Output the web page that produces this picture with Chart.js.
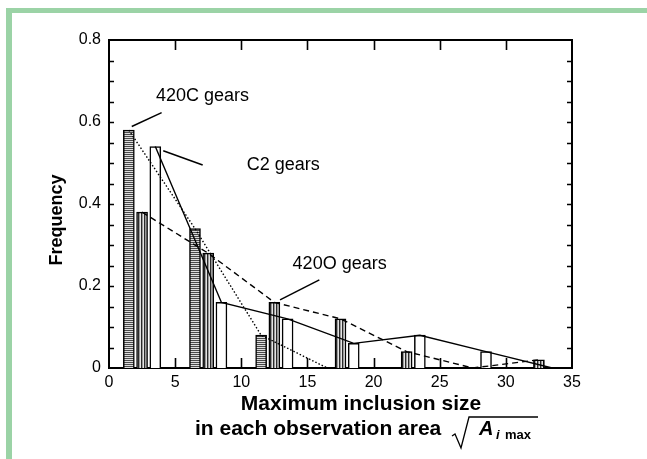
<!DOCTYPE html>
<html>
<head>
<meta charset="utf-8">
<script src="https://cdn.jsdelivr.net/npm/chart.js@4/dist/chart.umd.min.js"></script>
<style>
  html, body { margin: 0; padding: 0; background: #ffffff; }
  canvas { display: block; }
</style>
</head>
<body>
<canvas id="chart" width="647" height="459"></canvas>
<script>
// Histogram bins (start of each 5-unit class of inclusion size)
const binStarts = [0, 5, 10, 15, 20, 25, 30];

// Frequency per bin for each gear material
const freq420C = [0.58, 0.34, 0.08, 0.00, 0.00, 0.00, 0.00];
const freq420O = [0.38, 0.28, 0.16, 0.12, 0.04, 0.00, 0.02];
const freqC2   = [0.54, 0.16, 0.12, 0.06, 0.08, 0.04, 0.00];

// Where each series' bar sits inside a bin
const barOffset = { c420: 1.5, o420: 2.5, c2: 3.5 };

// Number of bins each trend line runs through
const lineBins = { c420: 4, o420: 7, c2: 7 };

// Axis ticks
const xTickValues = [0, 5, 10, 15, 20, 25, 30, 35];
const yTickLabels = [0, 0.2, 0.4, 0.6, 0.8];

// Series call-outs: text anchor and leader line, in data units
const calloutNames = ['420C gears', 'C2 gears', '420O gears'];
const calloutText  = [[3.55, 0.651], [10.41, 0.483], [13.88, 0.241]];
const calloutLineFrom = [[1.72, 0.589], [4.10, 0.530], [12.93, 0.166]];
const calloutLineTo   = [[3.98, 0.623], [7.08, 0.495], [15.90, 0.215]];

function barPoints(values, offset) {
  const pts = [];
  values.forEach((v, i) => { if (v > 0) pts.push({ x: binStarts[i] + offset, y: v }); });
  return pts;
}
function linePoints(values, offset, n) {
  return values.slice(0, n).map((v, i) => ({ x: binStarts[i] + offset, y: v }));
}

function stripePattern(colors, horizontal) {
  const c = document.createElement('canvas');
  c.width = horizontal ? 4 : colors.length;
  c.height = horizontal ? colors.length : 4;
  const g = c.getContext('2d');
  colors.forEach((col, i) => {
    g.fillStyle = col;
    if (horizontal) g.fillRect(0, i, c.width, 1);
    else g.fillRect(i, 0, 1, c.height);
  });
  return document.getElementById('chart').getContext('2d').createPattern(c, 'repeat');
}

const hatch420C = stripePattern(['#4a4a4a', '#dcdcdc'], true);
const hatch420O = stripePattern(['#2a2a2a', '#9a9a9a', '#e4e4e4'], false);

const FONT = "'Liberation Sans', Arial, Helvetica, sans-serif";

const framePlugin = {
  id: 'frameAndLabels',
  beforeDraw(chart) {
    const ctx = chart.ctx;
    ctx.save();
    ctx.fillStyle = '#ffffff';
    ctx.fillRect(0, 0, chart.width, chart.height);
    // light green frame on top and left
    ctx.fillStyle = '#9bd3a6';
    ctx.fillRect(6, 8, chart.width - 6, 5);
    ctx.fillRect(6, 8, 6, chart.height - 8);
    ctx.restore();
  },
  afterDraw(chart) {
    const ctx = chart.ctx;
    const a = chart.chartArea;
    const xs = chart.scales.x, ys = chart.scales.y;
    ctx.save();
    ctx.strokeStyle = '#000';
    ctx.lineCap = 'butt';
    // top and right axis lines
    ctx.lineWidth = 2;
    ctx.beginPath();
    ctx.moveTo(a.left - 1, a.top); ctx.lineTo(a.right + 1, a.top);
    ctx.moveTo(a.right, a.top); ctx.lineTo(a.right, a.bottom + 1);
    ctx.stroke();
    // inward ticks
    ctx.lineWidth = 1.6;
    ctx.beginPath();
    xTickValues.forEach(v => {
      if (v <= xs.min || v >= xs.max) return;
      const px = Math.round(xs.getPixelForValue(v)) + 0.5;
      ctx.moveTo(px, a.bottom); ctx.lineTo(px, a.bottom - 10);
      ctx.moveTo(px, a.top); ctx.lineTo(px, a.top + 10);
    });
    for (let k = 1; k < 16; k++) {
      const py = Math.round(ys.getPixelForValue(k * 0.05)) + 0.5;
      ctx.moveTo(a.left, py); ctx.lineTo(a.left + 5, py);
      ctx.moveTo(a.right, py); ctx.lineTo(a.right - 5, py);
    }
    ctx.stroke();

    // call-outs
    ctx.lineWidth = 1.5;
    ctx.fillStyle = '#000';
    ctx.font = '18px ' + FONT;
    ctx.textBaseline = 'alphabetic';
    ctx.textAlign = 'left';
    calloutNames.forEach((name, i) => {
      ctx.beginPath();
      ctx.moveTo(xs.getPixelForValue(calloutLineFrom[i][0]), ys.getPixelForValue(calloutLineFrom[i][1]));
      ctx.lineTo(xs.getPixelForValue(calloutLineTo[i][0]), ys.getPixelForValue(calloutLineTo[i][1]));
      ctx.stroke();
      ctx.fillText(name, xs.getPixelForValue(calloutText[i][0]), ys.getPixelForValue(calloutText[i][1]));
    });

    // y-axis title
    ctx.save();
    ctx.translate(57, 220);
    ctx.rotate(-Math.PI / 2);
    ctx.textAlign = 'center';
    ctx.textBaseline = 'middle';
    ctx.font = 'bold 18px ' + FONT;
    ctx.fillText('Frequency', 0, 0);
    ctx.restore();

    // x-axis title, two lines, with the square-root term
    ctx.font = 'bold 21px ' + FONT;
    ctx.textAlign = 'center';
    ctx.fillText('Maximum inclusion size', 361, 410);
    ctx.textAlign = 'left';
    ctx.fillText('in each observation area', 195, 435);
    // radical sign
    ctx.lineWidth = 1.3;
    ctx.beginPath();
    ctx.moveTo(452, 436);
    ctx.lineTo(455, 434);
    ctx.lineTo(461, 448);
    ctx.lineTo(469, 417);
    ctx.lineTo(538, 417);
    ctx.stroke();
    ctx.font = 'italic bold 20px ' + FONT;
    ctx.fillText('A', 479, 435);
    ctx.font = 'italic bold 13px ' + FONT;
    ctx.fillText('i', 496, 439);
    ctx.font = 'bold 13px ' + FONT;
    ctx.fillText('max', 505, 439);
    ctx.restore();
  }
};

const barCommon = {
  type: 'bar',
  borderColor: '#000',
  borderWidth: 1.5,
  barThickness: 11,
  grouped: false,
  order: 2
};
const lineCommon = {
  type: 'line',
  borderColor: '#000',
  borderWidth: 1.4,
  pointRadius: 0,
  tension: 0,
  fill: false,
  order: 0
};

new Chart(document.getElementById('chart'), {
  type: 'bar',
  data: {
    datasets: [
      Object.assign({}, barCommon, { label: '420C gears', data: barPoints(freq420C, barOffset.c420), backgroundColor: hatch420C }),
      Object.assign({}, barCommon, { label: '420O gears', data: barPoints(freq420O, barOffset.o420), backgroundColor: hatch420O }),
      Object.assign({}, barCommon, { label: 'C2 gears', data: barPoints(freqC2, barOffset.c2), backgroundColor: '#ffffff' }),
      Object.assign({}, lineCommon, { label: '420C trend', data: linePoints(freq420C, barOffset.c420, lineBins.c420), borderDash: [1.5, 2] }),
      Object.assign({}, lineCommon, { label: '420O trend', data: linePoints(freq420O, barOffset.o420, lineBins.o420), borderDash: [6, 4] }),
      Object.assign({}, lineCommon, { label: 'C2 trend', data: linePoints(freqC2, barOffset.c2, lineBins.c2) })
    ]
  },
  options: {
    responsive: false,
    animation: false,
    devicePixelRatio: 1,
    layout: { padding: { top: 40, right: 75, left: 0, bottom: 0 } },
    plugins: { legend: { display: false }, tooltip: { enabled: false } },
    scales: {
      x: {
        type: 'linear',
        min: 0, max: 35,
        offset: false,
        afterFit(s) { s.height = 91; },
        afterBuildTicks(s) { s.ticks = xTickValues.map(v => ({ value: v })); },
        grid: { display: false, drawTicks: false },
        border: { display: true, color: '#000', width: 2 },
        ticks: { color: '#000', font: { family: FONT, size: 16 }, padding: 5, maxRotation: 0, autoSkip: false }
      },
      y: {
        min: 0, max: 0.8,
        afterFit(s) { s.width = 109; },
        afterBuildTicks(s) { s.ticks = yTickLabels.map(v => ({ value: v })); },
        grid: { display: false, drawTicks: false },
        border: { display: true, color: '#000', width: 2 },
        ticks: {
          color: '#000', font: { family: FONT, size: 16 }, padding: 8, autoSkip: false,
          callback: v => String(Math.round(v * 10) / 10)
        }
      }
    }
  },
  plugins: [framePlugin]
});
</script>
</body>
</html>
